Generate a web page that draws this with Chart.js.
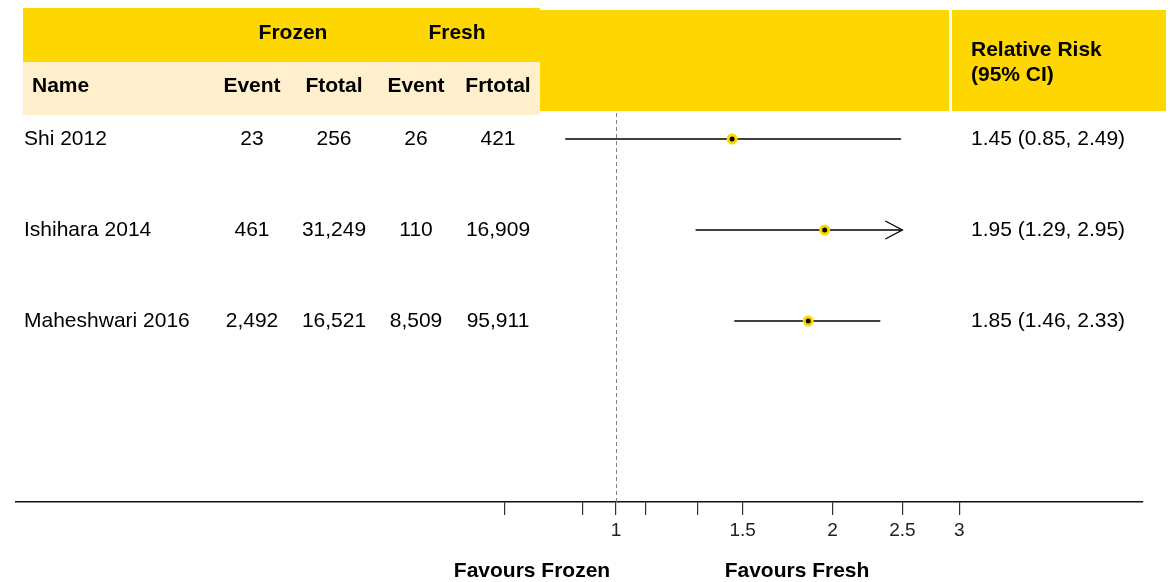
<!DOCTYPE html>
<html>
<head>
<meta charset="utf-8">
<script src="https://cdn.jsdelivr.net/npm/chart.js@4"></script>
<style>
  html, body { margin: 0; padding: 0; background: #ffffff; }
  #wrap { width: 1170px; height: 582px; position: relative; }
</style>
</head>
<body>
<div id="wrap"><canvas id="forest" width="1170" height="582"></canvas></div>
<script>
// Study table
const studies = ['Shi 2012', 'Ishihara 2014', 'Maheshwari 2016'];
const frozenEvent = ['23', '461', '2,492'];
const frozenTotal = ['256', '31,249', '16,521'];
const freshEvent = ['26', '110', '8,509'];
const freshTotal = ['421', '16,909', '95,911'];

// Relative risk with 95% CI
const rr = [1.45, 1.95, 1.85];
const ciLow = [0.85, 1.29, 1.46];
const ciHigh = [2.49, 2.95, 2.33];

// x axis ticks (log scale)
const tickValues = [0.7, 0.9, 1, 1.1, 1.3, 1.5, 2, 2.5, 3];
const tickLabels = ['', '', '1', '', '', '1.5', '2', '2.5', '3'];
const ciLimits = [0.7, 2.5];   // intervals beyond these ends get an arrow
const refValue = 1;

const GOLD = '#FFD700';
const CREAM = '#FFEFCC';
const FONT = '"Liberation Sans", Arial, Helvetica, sans-serif';

const ciDatasets = studies.map((name, i) => ({
  type: 'line',
  label: name + ' CI',
  data: [
    { x: Math.max(ciLow[i], ciLimits[0]), y: i },
    { x: Math.min(ciHigh[i], ciLimits[1]), y: i }
  ],
  borderColor: '#000000',
  borderWidth: 1.3,
  pointRadius: 0,
  fill: false,
  tension: 0
}));

const pointDataset = {
  type: 'scatter',
  label: 'Relative risk',
  data: rr.map((v, i) => ({ x: v, y: i })),
  pointRadius: 4,
  pointBorderWidth: 3,
  pointBackgroundColor: '#000000',
  pointBorderColor: GOLD,
  pointHoverRadius: 4
};

const forestDecor = {
  id: 'forestDecor',
  beforeDraw(chart) {
    const ctx = chart.ctx;
    ctx.save();
    // header bands
    ctx.fillStyle = GOLD;
    ctx.fillRect(540, 10, 409, 101);
    ctx.fillRect(952, 10, 214, 101);
    ctx.fillRect(23, 8, 517, 54);
    ctx.fillStyle = CREAM;
    ctx.fillRect(23, 62, 517, 53);

    ctx.fillStyle = '#000000';
    ctx.font = 'bold 21px ' + FONT;
    ctx.textBaseline = 'middle';
    ctx.textAlign = 'center';
    ctx.fillText('Frozen', 293, 33);
    ctx.fillText('Fresh', 457, 33);
    ctx.fillText('Event', 252, 86);
    ctx.fillText('Ftotal', 334, 86);
    ctx.fillText('Event', 416, 86);
    ctx.fillText('Frtotal', 498, 86);
    ctx.textAlign = 'left';
    ctx.fillText('Name', 32, 86);
    ctx.fillText('Relative Risk', 971, 50);
    ctx.fillText('(95% CI)', 971, 75);
    ctx.restore();
  },
  beforeDatasetsDraw(chart) {
    const ctx = chart.ctx;
    const x = Math.round(chart.scales.x.getPixelForValue(refValue)) + 0.5;
    ctx.save();
    ctx.strokeStyle = '#808080';
    ctx.lineWidth = 1;
    ctx.setLineDash([4, 3]);
    ctx.beginPath();
    ctx.moveTo(x, 113);
    ctx.lineTo(x, chart.chartArea.bottom);
    ctx.stroke();
    ctx.restore();
  },
  afterDatasetsDraw(chart) {
    const ctx = chart.ctx;
    const xs = chart.scales.x, ys = chart.scales.y;
    ctx.save();
    // arrows for intervals that run past the plotted range
    ctx.strokeStyle = '#000000';
    ctx.lineWidth = 1.3;
    studies.forEach((s, i) => {
      const y = ys.getPixelForValue(i);
      if (ciHigh[i] > ciLimits[1]) {
        const tip = xs.getPixelForValue(ciLimits[1]);
        ctx.beginPath();
        ctx.moveTo(tip - 17, y - 9);
        ctx.lineTo(tip, y);
        ctx.lineTo(tip - 17, y + 9);
        ctx.stroke();
      }
      if (ciLow[i] < ciLimits[0]) {
        const tip = xs.getPixelForValue(ciLimits[0]);
        ctx.beginPath();
        ctx.moveTo(tip + 17, y - 9);
        ctx.lineTo(tip, y);
        ctx.lineTo(tip + 17, y + 9);
        ctx.stroke();
      }
    });

    // table rows
    ctx.fillStyle = '#000000';
    ctx.font = '21px ' + FONT;
    ctx.textBaseline = 'middle';
    studies.forEach((s, i) => {
      const y = ys.getPixelForValue(i);
      ctx.textAlign = 'left';
      ctx.fillText(s, 24, y);
      ctx.fillText(rr[i].toFixed(2) + ' (' + ciLow[i].toFixed(2) + ', ' + ciHigh[i].toFixed(2) + ')', 971, y);
      ctx.textAlign = 'center';
      ctx.fillText(frozenEvent[i], 252, y);
      ctx.fillText(frozenTotal[i], 334, y);
      ctx.fillText(freshEvent[i], 416, y);
      ctx.fillText(freshTotal[i], 498, y);
    });
    ctx.restore();
  },
  afterDraw(chart) {
    const ctx = chart.ctx;
    ctx.save();
    ctx.fillStyle = '#000000';
    ctx.font = 'bold 21px ' + FONT;
    ctx.textBaseline = 'middle';
    ctx.textAlign = 'center';
    ctx.fillText('Favours Frozen', 532, 571);
    ctx.fillText('Favours Fresh', 797, 571);
    ctx.restore();
  }
};

new Chart(document.getElementById('forest'), {
  data: { datasets: [pointDataset, ...ciDatasets] },
  options: {
    responsive: false,
    animation: false,
    devicePixelRatio: 1,
    layout: { autoPadding: false, padding: { left: 16, right: 27, top: 0, bottom: 0 } },
    plugins: {
      legend: { display: false },
      tooltip: { enabled: false },
      title: { display: false }
    },
    scales: {
      x: {
        type: 'logarithmic',
        position: 'bottom',
        bounds: 'data',
        min: 0.1466,
        max: 5.40,
        afterBuildTicks: (scale) => { scale.ticks = tickValues.map(v => ({ value: v })); },
        afterFit: (scale) => { scale.height = 80; },
        ticks: {
          autoSkip: false,
          maxRotation: 0,
          minRotation: 0,
          padding: 4,
          color: '#222222',
          font: { family: FONT, size: 19 },
          callback: (value, index) => tickLabels[index]
        },
        grid: {
          drawOnChartArea: false,
          drawTicks: true,
          tickLength: 13,
          color: '#333333',
          lineWidth: 1.2
        },
        border: { display: true, color: '#111111', width: 1.5 }
      },
      y: {
        type: 'linear',
        display: false,
        reverse: true,
        min: -1.5275,
        max: 3.989
      }
    }
  },
  plugins: [forestDecor]
});
</script>
</body>
</html>
